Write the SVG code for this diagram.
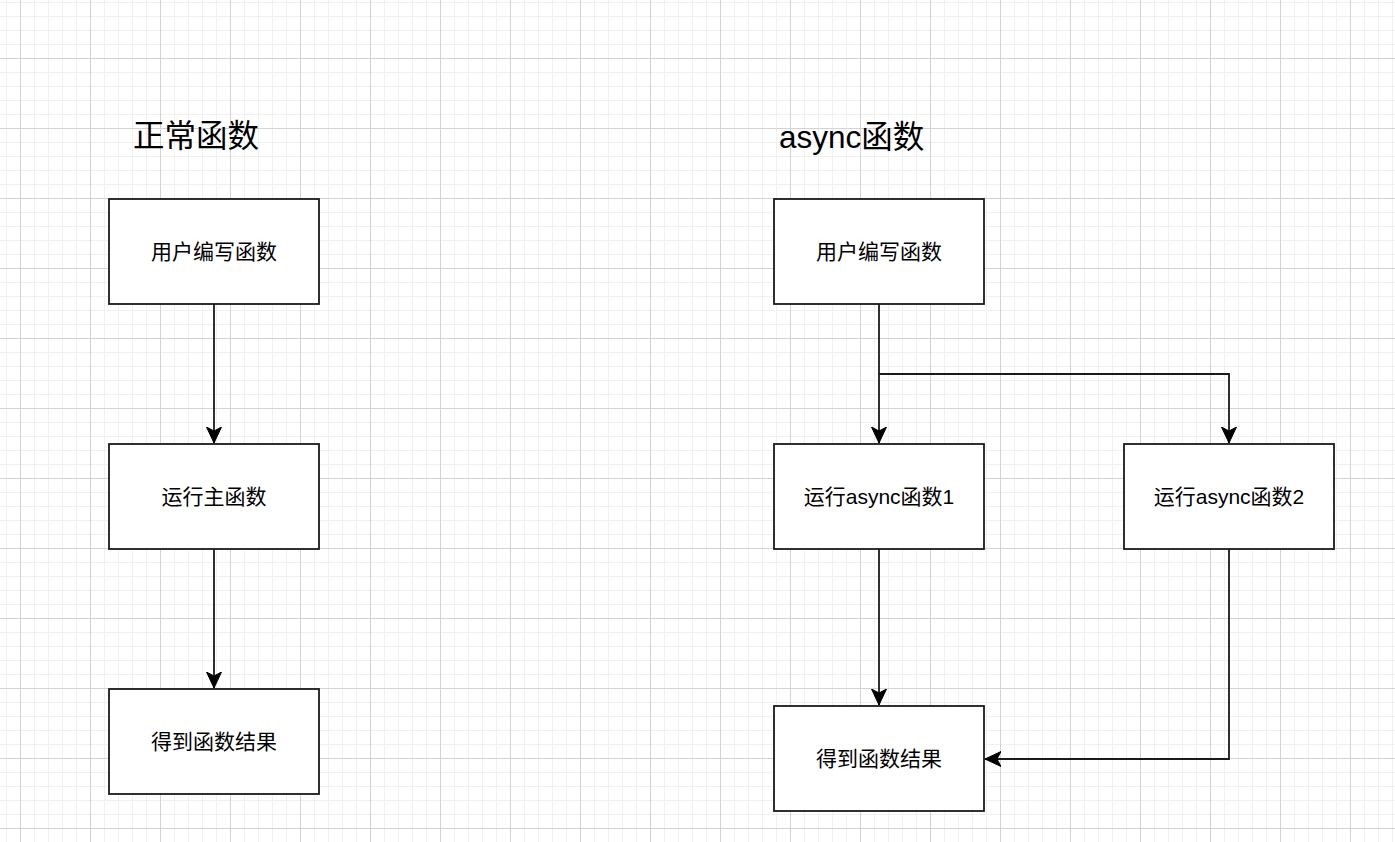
<svg xmlns="http://www.w3.org/2000/svg" width="1395" height="842" viewBox="0 0 1395 842">
<style>
.box{fill:#ffffff;stroke:#1a1a1a;stroke-width:1.8}
.lbl{font-family:"Liberation Sans","Noto Sans CJK SC",sans-serif;font-size:21px;fill:#000;text-anchor:middle;dominant-baseline:central}
.title{font-family:"Liberation Sans","Noto Sans CJK SC",sans-serif;font-size:31.5px;fill:#000;dominant-baseline:central}
.edge{fill:none;stroke:#1a1a1a;stroke-width:1.8}
</style>
<defs>
<pattern id="minor" x="6" y="2" width="14" height="14" patternUnits="userSpaceOnUse">
<rect x="0" y="0" width="1" height="14" fill="#f0f0f0"/>
<rect x="0" y="0" width="14" height="1" fill="#f0f0f0"/>
</pattern>
<pattern id="major" x="20" y="58" width="70" height="70" patternUnits="userSpaceOnUse">
<rect x="0" y="0" width="1" height="70" fill="#d3d3d3"/>
<rect x="0" y="0" width="70" height="1" fill="#d3d3d3"/>
</pattern>
<marker id="arr" viewBox="0 0 16 16" refX="16" refY="8" markerWidth="16" markerHeight="16" markerUnits="userSpaceOnUse" orient="auto">
<path d="M16,8 L0,0.5 L4,8 L0,15.5 Z" fill="#000" stroke="#000" stroke-width="1"/>
</marker>
</defs>
<rect width="1395" height="842" fill="#ffffff"/>
<rect width="1395" height="842" fill="url(#minor)"/>
<rect width="1395" height="842" fill="url(#major)"/>

<g id="title-normal"><text class="title" x="133" y="136">正常函数</text></g>
<g id="title-async"><text class="title" x="779" y="137">async函数</text></g>

<g id="connectors">
<path class="edge" d="M214,304 L214,443" marker-end="url(#arr)"/>
<path class="edge" d="M214,549 L214,688" marker-end="url(#arr)"/>
<path class="edge" d="M879,304 L879,443" marker-end="url(#arr)"/>
<path class="edge" d="M879,374 L1229,374 L1229,443" marker-end="url(#arr)"/>
<path class="edge" d="M879,549 L879,705" marker-end="url(#arr)"/>
<path class="edge" d="M1229,549 L1229,759 L985,759" marker-end="url(#arr)"/>
</g>

<g id="n-write1"><rect class="box" x="109" y="199" width="210" height="105"/><text class="lbl" x="214" y="251.5">用户编写函数</text></g>
<g id="n-main"><rect class="box" x="109" y="444" width="210" height="105"/><text class="lbl" x="214" y="496.5">运行主函数</text></g>
<g id="n-result1"><rect class="box" x="109" y="689" width="210" height="105"/><text class="lbl" x="214" y="741.5">得到函数结果</text></g>

<g id="n-write2"><rect class="box" x="774" y="199" width="210" height="105"/><text class="lbl" x="879" y="251.5">用户编写函数</text></g>
<g id="n-async1"><rect class="box" x="774" y="444" width="210" height="105"/><text class="lbl" x="879" y="496.5">运行async函数1</text></g>
<g id="n-async2"><rect class="box" x="1124" y="444" width="210" height="105"/><text class="lbl" x="1229" y="496.5">运行async函数2</text></g>
<g id="n-result2"><rect class="box" x="774" y="706" width="210" height="105"/><text class="lbl" x="879" y="758.5">得到函数结果</text></g>
</svg>
